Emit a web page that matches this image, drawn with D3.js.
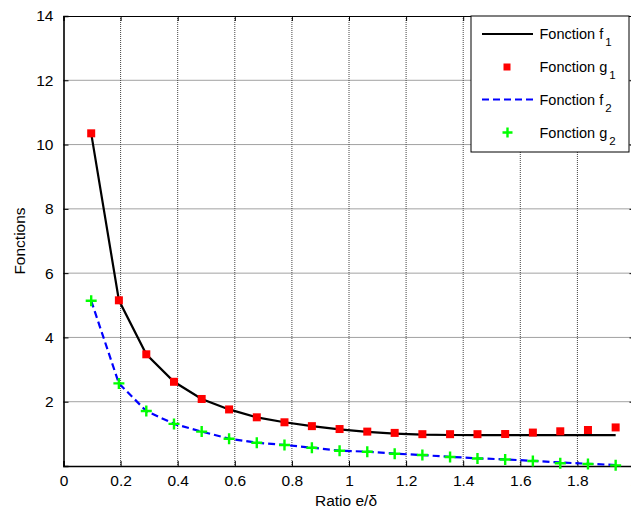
<!DOCTYPE html>
<html><head><meta charset="utf-8">
<script src="https://cdn.jsdelivr.net/npm/d3@7/dist/d3.min.js"></script>
<style>
html,body{margin:0;padding:0;background:#fff;overflow:hidden;}
text{font-family:"Liberation Sans",Arial,sans-serif;}
</style></head>
<body>
<svg id="chart" width="631" height="513"></svg>
<script>
// ---- data ----
const xValues = [0.097,0.194,0.290,0.387,0.484,0.580,0.677,0.774,0.870,0.967,1.064,1.160,1.257,1.354,1.450,1.547,1.644,1.740,1.837,1.934];
const f1 = [10.35,5.155,3.475,2.62,2.085,1.76,1.515,1.36,1.24,1.14,1.06,1.01,0.975,0.965,0.96,0.96,0.96,0.96,0.96,0.96];
const g1 = [10.35,5.155,3.475,2.62,2.085,1.76,1.515,1.36,1.24,1.15,1.07,1.03,0.99,0.99,0.99,0.995,1.04,1.08,1.12,1.20];
const f2 = [5.14,2.57,1.71,1.31,1.07,0.85,0.725,0.655,0.57,0.48,0.445,0.385,0.34,0.285,0.24,0.205,0.16,0.11,0.07,0.03];
const g2 = [5.14,2.57,1.71,1.31,1.07,0.85,0.725,0.655,0.57,0.475,0.445,0.38,0.34,0.28,0.235,0.20,0.155,0.085,0.06,0.02];
const xTicks = [0,0.2,0.4,0.6,0.8,1,1.2,1.4,1.6,1.8,2];
const yTicks = [2,4,6,8,10,12,14];
const legendItems = [
  {name:"Fonction f", sub:"1", type:"line"},
  {name:"Fonction g", sub:"1", type:"square"},
  {name:"Fonction f", sub:"2", type:"dash"},
  {name:"Fonction g", sub:"2", type:"plus"}
];

const svg = d3.select("#chart");
const L = 63.5, R = 634.5, T = 16, B = 466;
const x = d3.scaleLinear().domain([0,2]).range([L,R]);
const y = d3.scaleLinear().domain([0,14]).range([B,T]);

// grid
const grid = svg.append("g");
grid.selectAll(".gx").data(xTicks.filter(d=>d>0&&d<2)).enter().append("line")
  .attr("x1",d=>x(d)).attr("x2",d=>x(d)).attr("y1",T).attr("y2",B)
  .attr("stroke","#444").attr("stroke-width",1).attr("stroke-dasharray","1,1");
grid.selectAll(".gy").data(yTicks.filter(d=>d<14)).enter().append("line")
  .attr("x1",L).attr("x2",R).attr("y1",d=>y(d)).attr("y2",d=>y(d))
  .attr("stroke","#444").attr("stroke-width",1).attr("stroke-dasharray","1,1");

// axes
const xAxis = d3.axisBottom(x).tickValues(xTicks).tickSize(-5).tickPadding(9).tickFormat(d=>d3.format("~g")(d));
const gx = svg.append("g").attr("transform",`translate(0,${B})`).call(xAxis);
const yAxis = d3.axisLeft(y).tickValues(yTicks).tickSize(-5).tickPadding(10).tickFormat(d3.format("d"));
const gy = svg.append("g").attr("transform",`translate(${L},0)`).call(yAxis);
[gx,gy].forEach(g=>{
  g.select(".domain").attr("stroke","#000").attr("stroke-width",1.6);
  g.selectAll(".tick line").attr("stroke","#000").attr("stroke-width",1);
  g.selectAll(".tick text").attr("fill","#000").attr("font-size",15.5).attr("font-family","Liberation Sans, Arial, sans-serif");
});
// top and right ticks + box
const xTop = d3.axisTop(x).tickValues(xTicks).tickSize(-5).tickFormat("");
const gt = svg.append("g").attr("transform",`translate(0,${T})`).call(xTop);
const yRight = d3.axisRight(y).tickValues(yTicks).tickSize(-5).tickFormat("");
const gr = svg.append("g").attr("transform",`translate(${R},0)`).call(yRight);
[gt,gr].forEach(g=>{
  g.select(".domain").attr("stroke","#000").attr("stroke-width",1);
  g.selectAll(".tick line").attr("stroke","#000").attr("stroke-width",1);
});

// labels
svg.append("text").attr("x",346).attr("y",506).attr("text-anchor","middle")
  .attr("font-size",15.5).text("Ratio e/δ");
svg.append("text").attr("transform",`translate(25,${(T+B)/2}) rotate(-90)`)
  .attr("text-anchor","middle").attr("font-size",15.5).text("Fonctions");

// series
const pts = arr => arr.map((v,i)=>[xValues[i],v]);
const line = d3.line().x(d=>x(d[0])).y(d=>y(d[1]));
svg.append("path").attr("d",line(pts(f1))).attr("fill","none").attr("stroke","#000").attr("stroke-width",2.2);
svg.append("path").attr("d",line(pts(f2))).attr("fill","none").attr("stroke","#0000ff").attr("stroke-width",2.2).attr("stroke-dasharray","7,4");
svg.append("g").selectAll("rect").data(pts(g1)).enter().append("rect")
  .attr("x",d=>x(d[0])-4).attr("y",d=>y(d[1])-4).attr("width",8).attr("height",8).attr("fill","#ff0000");
const plus = (g,cx,cy,s)=>{
  g.append("path").attr("d",`M${cx-s},${cy}H${cx+s}M${cx},${cy-s}V${cy+s}`)
   .attr("stroke","#00ff00").attr("stroke-width",2.4).attr("fill","none");
};
const gp = svg.append("g");
pts(g2).forEach(d=>plus(gp,x(d[0]),y(d[1]),5.5));

// legend
const lg = svg.append("g");
lg.append("rect").attr("x",471).attr("y",T).attr("width",158).attr("height",136)
  .attr("fill","#fff").attr("stroke","#000").attr("stroke-width",1);
const rowY = [34,67,99.5,132.5];
legendItems.forEach((it,i)=>{
  const ry = rowY[i];
  if(it.type==="line") lg.append("line").attr("x1",482).attr("x2",533).attr("y1",ry).attr("y2",ry).attr("stroke","#000").attr("stroke-width",2.2);
  if(it.type==="dash") lg.append("line").attr("x1",482).attr("x2",533).attr("y1",ry).attr("y2",ry).attr("stroke","#0000ff").attr("stroke-width",2.2).attr("stroke-dasharray","7,4");
  if(it.type==="square") lg.append("rect").attr("x",503.5).attr("y",ry-3.5).attr("width",7).attr("height",7).attr("fill","#ff0000");
  if(it.type==="plus") plus(lg,507.5,ry,5);
  const t = lg.append("text").attr("x",539.5).attr("y",ry+5).attr("font-size",14.5);
  t.append("tspan").text(it.name);
  t.append("tspan").attr("dx",2).attr("dy",7).attr("font-size",11.5).text(it.sub);
});
</script>
</body></html>
